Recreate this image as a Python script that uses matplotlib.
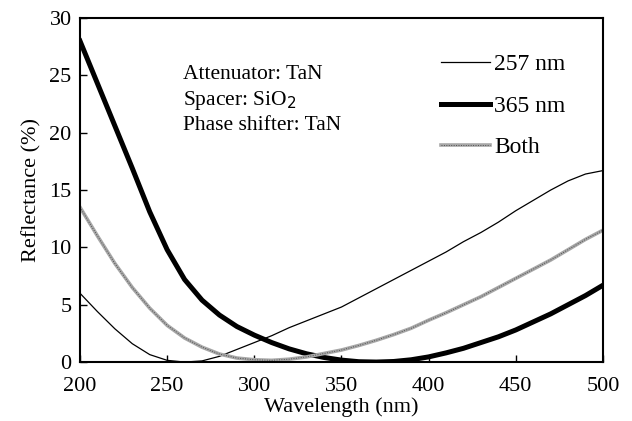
import numpy as np
import matplotlib
matplotlib.use('Agg')
import matplotlib.pyplot as plt
from matplotlib.legend_handler import HandlerTuple

plt.rcParams['font.family'] = ['Liberation Serif', 'DejaVu Serif']

# wavelength (nm)
wl = [200, 210, 220, 230, 240, 250, 260, 270, 280, 290, 300, 310, 320, 330, 340, 350,
      360, 370, 380, 390, 400, 410, 420, 430, 440, 450, 460, 470, 480, 490, 500]

# reflectance (%)
r_257 = [6.0, 4.4, 2.9, 1.6, 0.65, 0.15, 0.0, 0.1, 0.5, 1.1, 1.7, 2.3, 3.0, 3.6, 4.2, 4.8,
         5.6, 6.4, 7.2, 8.0, 8.8, 9.6, 10.5, 11.3, 12.2, 13.2, 14.1, 15.0, 15.8, 16.4, 16.7]
r_365 = [28.0, 24.3, 20.6, 16.9, 13.1, 9.8, 7.2, 5.4, 4.1, 3.1, 2.35, 1.7, 1.15, 0.72, 0.4, 0.17,
         0.03, 0.0, 0.05, 0.2, 0.45, 0.8, 1.2, 1.7, 2.2, 2.8, 3.5, 4.2, 5.0, 5.8, 6.7]
r_both = [13.5, 11.0, 8.6, 6.5, 4.7, 3.2, 2.1, 1.3, 0.7, 0.35, 0.2, 0.15, 0.25, 0.45, 0.75, 1.05,
          1.45, 1.9, 2.4, 2.95, 3.65, 4.3, 5.0, 5.7, 6.5, 7.3, 8.1, 8.9, 9.8, 10.7, 11.5]

fig = plt.figure(figsize=(6.32, 4.21), dpi=100)
ax = fig.add_axes([0.1266, 0.140, 0.8274, 0.817])

l1, = ax.plot(wl, r_257, color='black', lw=0.9)
l2, = ax.plot(wl, r_365, color='black', lw=3.6)
l3a, = ax.plot(wl, r_both, color='#a8a8a8', lw=2.6)
l3b, = ax.plot(wl, r_both, color='#505050', lw=0.7, ls=(0, (1, 1.5)))

ax.set_xlim(200, 500)
ax.set_ylim(0, 30)
ax.set_xticks([200, 250, 300, 350, 400, 450, 500])
ax.set_yticks([0, 5, 10, 15, 20, 25, 30])
ax.tick_params(direction='in', length=5, width=1, labelsize=16)
ax.tick_params(axis='x', pad=11)
ax.tick_params(axis='y', pad=6)
for s in ax.spines.values():
    s.set_linewidth(1.5)

ax.set_xlabel('Wavelength (nm)', fontsize=16, labelpad=1)
ax.set_ylabel('Reflectance (%)', fontsize=16, labelpad=6)

ax.text(0.197, 0.835, 'Attenuator: TaN', transform=ax.transAxes, fontsize=15.5, va='center')
ax.text(0.197, 0.760, r'Spacer: SiO$_2$', transform=ax.transAxes, fontsize=15.5, va='center')
ax.text(0.197, 0.687, 'Phase shifter: TaN', transform=ax.transAxes, fontsize=15.5, va='center')

ax.legend([l1, l2, (l3a, l3b)], ['257 nm', '365 nm', 'Both'],
          handler_map={tuple: HandlerTuple(ndivide=1, pad=0)},
          loc='upper left', bbox_to_anchor=(0.690, 0.8965), frameon=False,
          fontsize=17, handlelength=2.1, handletextpad=0.17, labelspacing=0.85,
          borderaxespad=0, borderpad=0)

fig.savefig('out.png', dpi=100)
